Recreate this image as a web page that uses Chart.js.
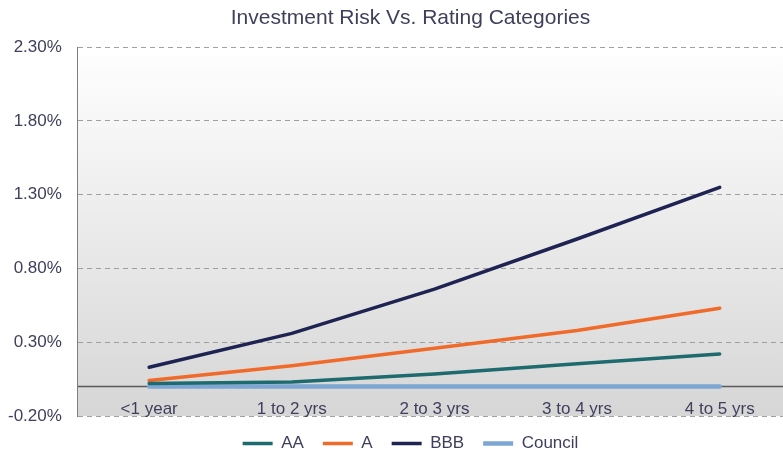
<!DOCTYPE html>
<html>
<head>
<meta charset="utf-8">
<script src="https://cdn.jsdelivr.net/npm/chart.js@4.4.1/dist/chart.umd.min.js"></script>
<style>
  html, body { margin: 0; padding: 0; background: #ffffff; overflow: hidden; }
  #wrap { width: 830px; height: 452px; }
</style>
</head>
<body>
<div id="wrap"><canvas id="c" width="830" height="452"></canvas></div>
<script>
const categories = ['<1 year', '1 to 2 yrs', '2 to 3 yrs', '3 to 4 yrs', '4 to 5 yrs'];
const seriesAA = [0.02, 0.03, 0.085, 0.155, 0.22];
const seriesA = [0.04, 0.14, 0.26, 0.38, 0.53];
const seriesBBB = [0.13, 0.36, 0.66, 1.00, 1.35];
const seriesCouncil = [0, 0, 0, 0, 0];
const yTicks = [-0.2, 0.3, 0.8, 1.3, 1.8, 2.3];

const textColor = '#3e3f5c';
const fontFamily = '"Liberation Sans", Arial, sans-serif';

const bgPlugin = {
  id: 'bg',
  beforeDraw(chart) {
    const { ctx, chartArea: a } = chart;
    const g = ctx.createLinearGradient(0, a.top, 0, a.bottom);
    g.addColorStop(0, '#ffffff');
    g.addColorStop(1, '#d6d6d6');
    ctx.save();
    ctx.fillStyle = g;
    ctx.fillRect(a.left, a.top, a.right - a.left, a.bottom - a.top);
    ctx.restore();
  },
  beforeDatasetsDraw(chart) {
    const { ctx, chartArea: a, scales } = chart;
    const y0 = Math.round(scales.y.getPixelForValue(0)) + 0.5;
    ctx.save();
    ctx.strokeStyle = '#5a5a5a';
    ctx.lineWidth = 1.5;
    ctx.beginPath();
    ctx.moveTo(a.left, y0);
    ctx.lineTo(a.right, y0);
    ctx.stroke();
    ctx.restore();
  }
};

function ds(label, data, color, width) {
  return {
    label, data,
    borderColor: color, backgroundColor: color,
    borderWidth: width, pointRadius: 0, pointHoverRadius: 0,
    pointStyle: 'line', tension: 0, fill: false, borderCapStyle: 'round'
  };
}

new Chart(document.getElementById('c'), {
  type: 'line',
  data: {
    labels: categories,
    datasets: [
      ds('AA', seriesAA, '#1d6b6e', 3.5),
      ds('A', seriesA, '#f06a2a', 3.5),
      ds('BBB', seriesBBB, '#1f2352', 3.5),
      ds('Council', seriesCouncil, '#7ea6d2', 4.5)
    ]
  },
  options: {
    responsive: false,
    animation: false,
    layout: { padding: { left: -8, right: 1, top: 0, bottom: -10 } },
    plugins: {
      title: {
        display: true,
        text: 'Investment Risk Vs. Rating Categories',
        color: textColor,
        font: { family: fontFamily, size: 21, weight: 'normal' },
        padding: { top: 6, bottom: 16 }
      },
      legend: {
        position: 'bottom',
        labels: {
          color: textColor,
          font: { family: fontFamily, size: 17 },
          usePointStyle: true,
          pointStyleWidth: 30,
          boxHeight: 4,
          padding: 19
        }
      },
      tooltip: { enabled: false }
    },
    scales: {
      x: {
        offset: true,
        grid: { display: false, drawTicks: false },
        border: { display: false },
        afterFit(scale) { scale.height = 0; },
        ticks: {
          color: textColor,
          font: { family: fontFamily, size: 17 },
          mirror: true,
          padding: -4,
          maxRotation: 0
        }
      },
      y: {
        min: -0.2,
        max: 2.3,
        afterBuildTicks(scale) { scale.ticks = yTicks.map(v => ({ value: v })); },
        grid: { color: '#a0a0a0', lineWidth: 1, drawTicks: false },
        border: { display: true, color: '#7f7f7f', width: 1, dash: [5, 4] },
        ticks: {
          color: textColor,
          font: { family: fontFamily, size: 17 },
          padding: 16,
          callback: v => v.toFixed(2) + '%'
        }
      },
      yRight: {
        position: 'right',
        min: 0,
        max: 1,
        grid: { display: false, drawTicks: false },
        border: { display: false },
        ticks: { display: false },
        afterFit(scale) { scale.width = 38; }
      }
    }
  },
  plugins: [bgPlugin]
});
</script>
</body>
</html>
